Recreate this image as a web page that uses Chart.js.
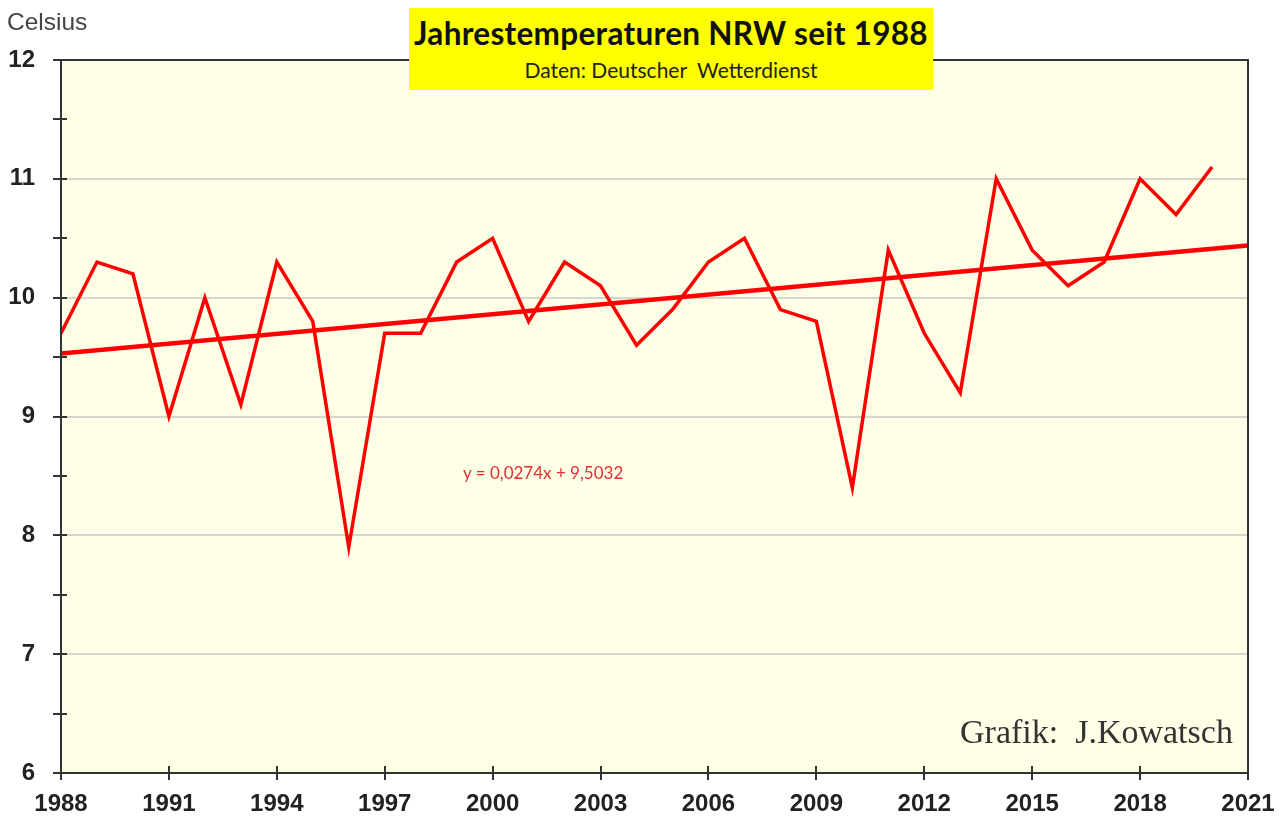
<!DOCTYPE html>
<html>
<head>
<meta charset="utf-8">
<script src="https://cdn.jsdelivr.net/npm/chart.js@4.4.1/dist/chart.umd.min.js"></script>
<style>
  body { margin: 0; background: #fff; }
  #wrap { position: relative; width: 1286px; height: 832px; }
  .note { position: absolute; white-space: nowrap; }
  #titleBox { left: 409px; top: 8px; width: 524px; height: 82px; background: #ffff00; text-align: center; font-family: Lato, sans-serif; color: #111; }
  #titleBox .t1 { font-weight: bold; font-size: 31.5px; margin-top: 6px; line-height: 38px; letter-spacing: 0.3px; }
  #titleBox .t2 { font-size: 21px; line-height: 26px; color: #222; margin-top: 5px; }
</style>
</head>
<body>
<div id="wrap">
  <canvas id="tempChart"></canvas>
  <div class="note" style="left:7px;top:8px;font:24.5px 'Liberation Sans',Arial,sans-serif;color:#444;">Celsius</div>
  <div class="note" id="titleBox"><div class="t1">Jahrestemperaturen NRW seit 1988</div><div class="t2">Daten: Deutscher&nbsp; Wetterdienst</div></div>
  <div class="note" style="left:463px;top:462px;font:17px Lato,sans-serif;color:#e03030;">y = 0,0274x + 9,5032</div>
  <div class="note" style="left:960px;top:713px;font:34px 'Liberation Serif','Times New Roman',serif;color:#333;">Grafik:&nbsp; J.Kowatsch</div>
</div>
<script>
const years = [1988, 1989, 1990, 1991, 1992, 1993, 1994, 1995, 1996, 1997, 1998,
  1999, 2000, 2001, 2002, 2003, 2004, 2005, 2006, 2007, 2008, 2009, 2010,
  2011, 2012, 2013, 2014, 2015, 2016, 2017, 2018, 2019, 2020];
const temps = [9.7, 10.3, 10.2, 9.0, 10.0, 9.1, 10.3, 9.8, 7.9, 9.7, 9.7,
  10.3, 10.5, 9.8, 10.3, 10.1, 9.6, 9.9, 10.3, 10.5, 9.9, 9.8, 8.4,
  10.4, 9.7, 9.2, 11.0, 10.4, 10.1, 10.3, 11.0, 10.7, 11.1];
// Trendlinie (Endpunkte)
const trendYears = [1988, 2021];
const trendTemps = [9.53, 10.44];
const yMin = 6, yMax = 12;
const xMin = 1988, xMax = 2021;

const frame = {
  id: "frame",
  beforeDraw(chart) {
    const a = chart.chartArea, c = chart.ctx;
    c.save();
    c.fillStyle = "#ffffe8";
    c.fillRect(a.left, a.top, a.right - a.left, a.bottom - a.top);
    c.restore();
  },
  afterDraw(chart) {
    const a = chart.chartArea, c = chart.ctx;
    const xs = chart.scales.x, ys = chart.scales.y;
    c.save();
    c.strokeStyle = "#333";
    c.lineWidth = 2;
    c.strokeRect(a.left, a.top, a.right - a.left, a.bottom - a.top);
    c.beginPath();
    for (let v = yMin; v <= yMax; v += 0.5) {
      const py = Math.round(ys.getPixelForValue(v));
      c.moveTo(a.left - 8, py);
      c.lineTo(a.left + 6, py);
    }
    for (let v = xMin; v <= xMax; v += 3) {
      const px = Math.round(xs.getPixelForValue(v));
      c.moveTo(px, a.bottom - 7);
      c.lineTo(px, a.bottom + 7);
    }
    c.stroke();
    c.restore();
  }
};

new Chart(document.getElementById("tempChart"), {
  type: "line",
  data: {
    datasets: [
      {
        label: "Jahrestemperatur",
        data: years.map((y, i) => ({ x: y, y: temps[i] })),
        borderColor: "#ff0000",
        borderWidth: 3.5,
        pointRadius: 0,
        tension: 0
      },
      {
        label: "Trend",
        data: trendYears.map((y, i) => ({ x: y, y: trendTemps[i] })),
        borderColor: "#ff0000",
        borderWidth: 4.5,
        pointRadius: 0
      }
    ]
  },
  options: {
    responsive: true,
    maintainAspectRatio: false,
    animation: false,
    layout: { padding: { top: 60, right: 38, left: 0, bottom: 0 } },
    plugins: { legend: { display: false }, tooltip: { enabled: false } },
    scales: {
      x: {
        type: "linear",
        min: xMin,
        max: xMax,
        afterFit(s) { s.height = 59; },
        grid: { display: false },
        border: { display: false },
        ticks: {
          stepSize: 3,
          padding: 9,
          color: "#222",
          font: { family: "'Liberation Sans', Arial, sans-serif", size: 24, weight: "bold" },
          callback: v => String(v)
        }
      },
      y: {
        min: yMin,
        max: yMax,
        afterFit(s) { s.width = 61; },
        grid: {
          drawTicks: false,
          color: ctx => Number.isInteger(ctx.tick.value) ? "#d6d6cc" : "rgba(0,0,0,0)",
          lineWidth: 2
        },
        border: { display: false },
        ticks: {
          stepSize: 0.5,
          padding: 26,
          color: "#222",
          font: { family: "'Liberation Sans', Arial, sans-serif", size: 24, weight: "bold" },
          callback: v => Number.isInteger(v) ? String(v) : ""
        }
      }
    }
  },
  plugins: [frame]
});
</script>
</body>
</html>
